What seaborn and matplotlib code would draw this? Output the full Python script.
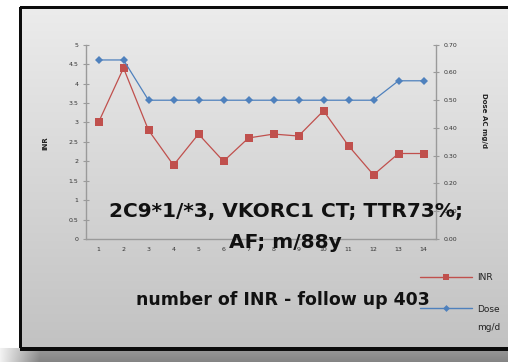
import numpy as np
import matplotlib
matplotlib.use("Agg")
import matplotlib.pyplot as plt
import seaborn as sns
import pandas as pd
from matplotlib.lines import Line2D

# ---- data ----
visits = list(range(1, 15))
inr = [3.0, 4.4, 2.8, 1.9, 2.7, 2.0, 2.6, 2.7, 2.65, 3.3, 2.4, 1.65, 2.2, 2.2]
dose = [0.645, 0.645, 0.50, 0.50, 0.50, 0.50, 0.50, 0.50, 0.50, 0.50, 0.50, 0.50, 0.57, 0.57]
left_ticks = [0, 0.5, 1, 1.5, 2, 2.5, 3, 3.5, 4, 4.5, 5]
left_labels = ["0", "0.5", "1", "1.5", "2", "2.5", "3", "3.5", "4", "4.5", "5"]
right_ticks = [0.0, 0.1, 0.2, 0.3, 0.4, 0.5, 0.6, 0.7]
right_labels = ["0.00", "0.10", "0.20", "0.30", "0.40", "0.50", "0.60", "0.70"]
title_line1 = "2C9*1/*3, VKORC1 CT; TTR73%;"
title_line2 = "AF; m/88y"
footer = "number of INR - follow up 403"

df = pd.DataFrame({"visit": visits, "INR": inr, "Dose": dose})

RED = "#C0504D"
BLUE = "#4F81BD"
AXC = "#9a9a9a"

sns.set_style("white")
plt.rcParams["font.family"] = ["DejaVu Sans"]

W, H = 508, 362
fig = plt.figure(figsize=(W / 100, H / 100), dpi=100)

# ---- background (frame + gradient) ----
bg = np.ones((H, W, 3))
top, bot, lft = 7, 348, 20
grad = np.linspace(0.925, 0.76, bot - top)[:, None]
bg[top:bot, lft:, :] = grad[:, :, None] * np.ones((1, W - lft, 1))
sh = np.linspace(0.60, 0.52, H - bot)[:, None]
bg[bot:, :, :] = sh[:, :, None] * np.ones((1, W, 1))
fade = np.clip(np.linspace(0, 1, 40), 0, 1)
for i in range(bot, H):
    bg[i, :40, :] = (bg[i, :40, :] * fade[:, None] + (1 - fade[:, None]) * 0.95)
bg[top - 1:top + 2, lft:, :] = 0.05
bg[top:bot, lft - 1:lft + 2, :] = 0.05
bg[bot - 1:bot + 3, lft:, :] = 0.05
axbg = fig.add_axes([0, 0, 1, 1])
axbg.imshow(bg, aspect="auto", interpolation="bilinear")
axbg.set_axis_off()

# ---- main axes ----
x0, x1 = 86, 436
y0, y1 = 239, 44.7
ax = fig.add_axes([x0 / W, (H - y0) / H, (x1 - x0) / W, (y0 - y1) / H])
ax.patch.set_alpha(0)
sns.lineplot(data=df, x="visit", y="INR", ax=ax, color=RED, marker="s",
             markersize=6.0, markeredgewidth=0, linewidth=0.9, legend=False)
ax.set_xlim(0.5, 14.5)
ax.set_ylim(0, 5)
ax.set_yticks(left_ticks)
ax.set_yticklabels(left_labels)
ax.set_xticks(visits)
ax.set_xticklabels([str(v) for v in visits])
ax.set_xticks(np.arange(0.5, 15.0, 1.0), minor=True)
ax.tick_params(axis="x", which="major", length=0, labelsize=4.5, colors="#333333", pad=6)
ax.tick_params(axis="x", which="minor", length=4, direction="inout", color=AXC, width=0.8)
ax.tick_params(axis="y", length=5, direction="inout", color=AXC, width=0.8,
               labelsize=4.5, labelcolor="#333333", pad=3)
for s in ["top", "right"]:
    ax.spines[s].set_visible(False)
for s in ["left", "bottom"]:
    ax.spines[s].set_color(AXC)
    ax.spines[s].set_linewidth(1.0)
ax.set_xlabel("")
ax.set_ylabel("")

# ---- twin axes (dose) ----
ax2 = ax.twinx()
ax2.patch.set_alpha(0)
sns.lineplot(data=df, x="visit", y="Dose", ax=ax2, color=BLUE, marker="D",
             markersize=4.0, markeredgewidth=0, linewidth=0.9, legend=False)
ax2.set_ylim(0, 0.7)
ax2.set_yticks(right_ticks)
ax2.set_yticklabels(right_labels)
ax2.tick_params(axis="y", length=5, direction="inout", color=AXC, width=0.8,
                labelsize=4.5, labelcolor="#333333", pad=3)
for s in ["top", "left", "bottom"]:
    ax2.spines[s].set_visible(False)
ax2.spines["right"].set_color(AXC)
ax2.spines["right"].set_linewidth(1.0)
ax2.set_ylabel("")

# axis titles
fig.text(45 / W, 1 - 143 / H, "INR", rotation=90, ha="center", va="center",
         fontsize=5, fontweight="bold", color="#222222")
fig.text(484 / W, 1 - 121 / H, "Dose AC mg/d", rotation=270, ha="center", va="center",
         fontsize=5, fontweight="bold", color="#222222")

# legend
handles = [Line2D([], [], color=RED, marker="s", markersize=5, markeredgewidth=0, linewidth=1.0),
           Line2D([], [], color=BLUE, marker="D", markersize=3.5, markeredgewidth=0, linewidth=1.0)]
leg = fig.legend(handles, ["INR", "Dose"], loc="upper left",
                 bbox_to_anchor=(420 / W, 1 - 273 / H), frameon=False,
                 fontsize=6.5, handlelength=5.8, handletextpad=0.55, labelspacing=2.5,
                 borderaxespad=0, borderpad=0)
for t in leg.get_texts():
    t.set_color("#222222")
fig.text(477 / W, 1 - 327 / H, "mg/d", ha="left", va="center",
         fontsize=6.5, color="#222222")

# big annotation text
fig.text(286 / W, 1 - 211 / H, title_line1, ha="center", va="center",
         fontsize=14.5, fontweight="bold", color="#111111", zorder=10)
fig.text(285 / W, 1 - 243 / H, title_line2, ha="center", va="center",
         fontsize=14.5, fontweight="bold", color="#111111", zorder=10)
fig.text(283 / W, 1 - 300 / H, footer, ha="center", va="center",
         fontsize=12.5, fontweight="bold", color="#111111", zorder=10)

fig.savefig("out.png", dpi=100)
